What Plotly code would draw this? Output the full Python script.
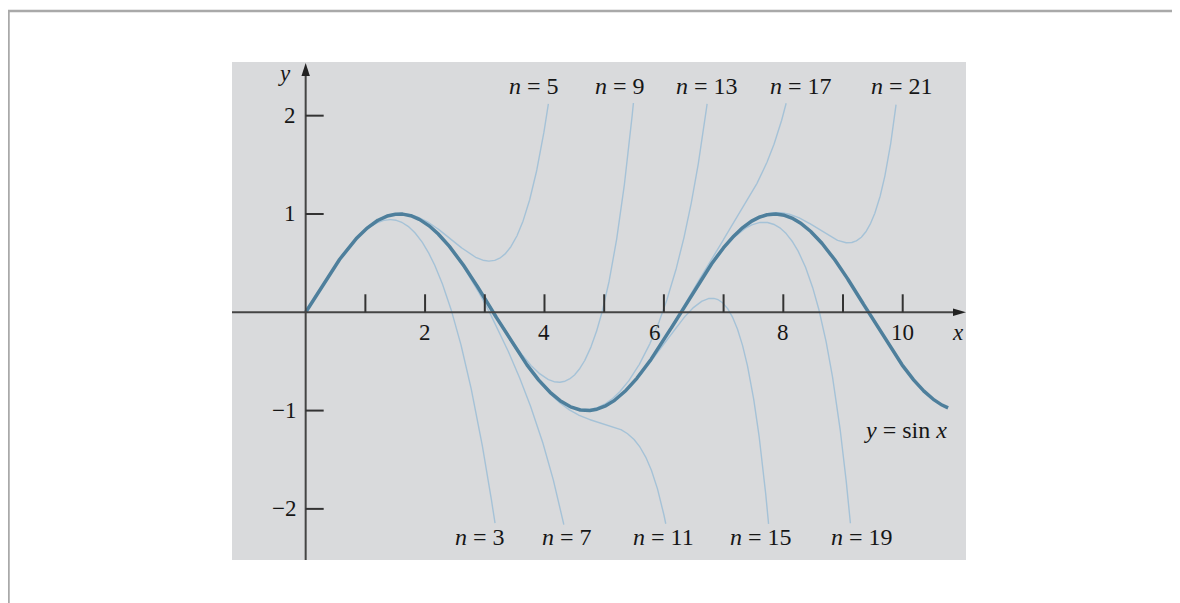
import math
import numpy as np
import plotly.graph_objects as go

# ---- data ----
degrees_top = [5, 9, 13, 17, 21]
degrees_bottom = [3, 7, 11, 15, 19]
x_tick_values = [1, 2, 3, 4, 5, 6, 7, 8, 9, 10]
x_tick_labels = ["2", "4", "6", "8", "10"]
x_label_values = [2, 4, 6, 8, 10]
y_tick_values = [2, 1, -1, -2]
y_tick_labels = ["2", "1", "\u22121", "\u22122"]
x_max_sin = 10.76
y_clip_top = 2.13
y_clip_bottom = -2.16

# ---- layout geometry ----
X0, X1 = -1.234, 11.06
Y0, Y1 = -2.52, 2.546
PX_PER_X = 59.7
PX_PER_Y = 98.3

SIN_COLOR = "#4e7f9c"
THIN_COLOR = "#a5c2d7"
AXIS_COLOR = "#444444"
TEXT_COLOR = "#161616"
FONT = "Liberation Serif, Times New Roman, serif"

# page body margin offset (browser default)
OFF = 8
FIG_W, FIG_H = 1180 - OFF, 603 - OFF


def taylor_sin(x, n):
    total = np.zeros_like(x)
    for k in range(0, n + 1):
        if k % 2 == 1:
            sign = 1 if (k // 2) % 2 == 0 else -1
            total = total + sign * x ** k / math.factorial(k)
    return total


fig = go.Figure()

xs = np.linspace(0, x_max_sin, 3000)
for n in sorted(degrees_top + degrees_bottom):
    y = taylor_sin(xs, n)
    inside = (y <= y_clip_top) & (y >= y_clip_bottom)
    out_idx = np.where(~inside)[0]
    stop = out_idx[0] if len(out_idx) else len(xs)
    fig.add_trace(go.Scatter(x=xs[:stop], y=y[:stop], mode="lines",
                             line=dict(color=THIN_COLOR, width=1.4),
                             hoverinfo="skip", showlegend=False))

fig.add_trace(go.Scatter(x=xs, y=np.sin(xs), mode="lines",
                         line=dict(color=SIN_COLOR, width=3.5),
                         hoverinfo="skip", showlegend=False))

shapes = []
# axes
shapes.append(dict(type="line", xref="x", yref="y", x0=X0, x1=X1 - 0.15, y0=0, y1=0,
                   line=dict(color=AXIS_COLOR, width=2)))
shapes.append(dict(type="line", xref="x", yref="y", x0=0, x1=0, y0=Y0, y1=Y1 - 0.1,
                   line=dict(color=AXIS_COLOR, width=2)))
# arrowheads
ax_len = 13 / PX_PER_X
ax_hw = 3.8 / PX_PER_Y
shapes.append(dict(type="path", xref="x", yref="y",
                   path=f"M {X1} 0 L {X1-ax_len} {ax_hw} L {X1-ax_len} {-ax_hw} Z",
                   fillcolor="#222222", line=dict(width=0)))
ay_tip = 2.535
ay_len = 13 / PX_PER_Y
ay_hw = 4.2 / PX_PER_X
shapes.append(dict(type="path", xref="x", yref="y",
                   path=f"M 0 {ay_tip} L {ay_hw} {ay_tip-ay_len} L {-ay_hw} {ay_tip-ay_len} Z",
                   fillcolor="#222222", line=dict(width=0)))
# ticks
for tv in x_tick_values:
    shapes.append(dict(type="line", xref="x", yref="y", x0=tv, x1=tv, y0=0, y1=18 / PX_PER_Y,
                       line=dict(color="#333333", width=2)))
for tv in y_tick_values:
    shapes.append(dict(type="line", xref="x", yref="y", x0=0, x1=18 / PX_PER_X, y0=tv, y1=tv,
                       line=dict(color="#333333", width=2)))

# plot area in window pixels
plot_l, plot_r, plot_t, plot_b = 232, 966, 62, 560
pw, ph = plot_r - plot_l, plot_b - plot_t


def px2paper_x(px):
    return (px - plot_l) / pw


def px2paper_y(py):
    return (plot_b - py) / ph


shapes.append(dict(type="rect", xref="paper", yref="paper",
                   x0=px2paper_x(8.5), x1=px2paper_x(1195),
                   y0=px2paper_y(620), y1=px2paper_y(11),
                   line=dict(color="#a9a9a9", width=2.5), fillcolor="rgba(0,0,0,0)",
                   layer="below"))

annotations = []
tf = dict(family=FONT, size=23, color=TEXT_COLOR)
lf = dict(family=FONT, size=24, color=TEXT_COLOR)
label_offsets = {6: -0.15}
for v, lab in zip(x_label_values, x_tick_labels):
    annotations.append(dict(x=v + label_offsets.get(v, 0), y=-0.21, xref="x", yref="y", text=lab,
                            showarrow=False, font=tf, xanchor="center", yanchor="middle"))
for v, lab in zip(y_tick_values, y_tick_labels):
    annotations.append(dict(x=-0.13, y=v, xref="x", yref="y", text=lab,
                            showarrow=False, font=tf, xanchor="right", yanchor="middle"))
annotations.append(dict(x=10.93, y=-0.21, xref="x", yref="y", text="<i>x</i>",
                        showarrow=False, font=tf, xanchor="center", yanchor="middle"))
annotations.append(dict(x=-0.35, y=2.43, xref="x", yref="y", text="<i>y</i>",
                        showarrow=False, font=tf, xanchor="center", yanchor="middle"))

top_label_x = [3.83, 5.27, 6.72, 8.29, 9.99]
bottom_label_x = [2.92, 4.38, 5.99, 7.63, 9.31]
for n, lx in zip(degrees_top, top_label_x):
    annotations.append(dict(x=lx, y=2.30, xref="x", yref="y", text=f"<i>n</i> = {n}",
                            showarrow=False, font=lf, xanchor="center", yanchor="middle"))
for n, lx in zip(degrees_bottom, bottom_label_x):
    annotations.append(dict(x=lx, y=-2.29, xref="x", yref="y", text=f"<i>n</i> = {n}",
                            showarrow=False, font=lf, xanchor="center", yanchor="middle"))
annotations.append(dict(x=10.04, y=-1.20, xref="x", yref="y", text="<i>y</i> = sin <i>x</i>",
                        showarrow=False, font=lf, xanchor="center", yanchor="middle"))

fig.update_layout(
    width=FIG_W, height=FIG_H,
    margin=dict(l=plot_l - OFF, r=FIG_W - (plot_r - OFF), t=plot_t - OFF,
                b=FIG_H - (plot_b - OFF), pad=0),
    paper_bgcolor="white", plot_bgcolor="#d9dadc",
    xaxis=dict(range=[X0, X1], showgrid=False, zeroline=False, showticklabels=False,
               showline=False, ticks="", fixedrange=True),
    yaxis=dict(range=[Y0, Y1], showgrid=False, zeroline=False, showticklabels=False,
               showline=False, ticks="", fixedrange=True),
    shapes=shapes, annotations=annotations, showlegend=False,
)

fig.write_html("out.html", config=dict(displayModeBar=False))
